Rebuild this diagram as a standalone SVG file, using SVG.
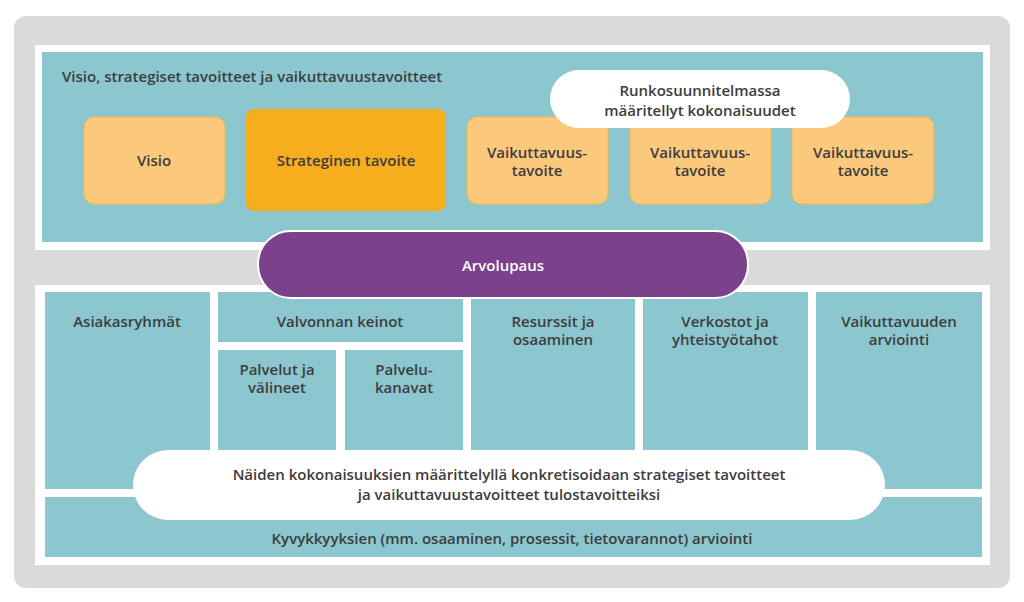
<svg xmlns="http://www.w3.org/2000/svg" width="1024" height="602" viewBox="0 0 1024 602">
<style>
text{font-family:"Open Sans","Liberation Sans",sans-serif;font-size:15px;fill:#3c3c3c;font-weight:600}
.c{text-anchor:middle}
.t{fill:#8cc7cf}
.lo{fill:#fbc97c;stroke:#f6b84a;stroke-width:1}
.pill{fill:#fff}
</style>
<rect x="14" y="16" width="996" height="572" rx="12" fill="#dadada"/>
<rect x="35" y="45" width="955" height="205" fill="#fff"/>
<rect x="42" y="52" width="941" height="190" class="t"/>
<text x="62" y="82">Visio, strategiset tavoitteet ja vaikuttavuustavoitteet</text>
<g id="visio"><rect x="84" y="117" width="141" height="87" rx="10" class="lo"/><text x="154" y="166" class="c">Visio</text></g>
<g id="strateginen"><rect x="246" y="109" width="200" height="102" rx="8" fill="#f6ae1e"/><text x="346" y="166" class="c">Strateginen tavoite</text></g>
<g id="vt1"><rect x="467" y="117" width="141" height="87" rx="10" class="lo"/><text x="537" y="158" class="c">Vaikuttavuus-</text><text x="537" y="176" class="c">tavoite</text></g>
<g id="vt2"><rect x="630" y="117" width="141" height="87" rx="10" class="lo"/><text x="700" y="158" class="c">Vaikuttavuus-</text><text x="700" y="176" class="c">tavoite</text></g>
<g id="vt3"><rect x="792" y="117" width="142" height="87" rx="10" class="lo"/><text x="863" y="158" class="c">Vaikuttavuus-</text><text x="863" y="176" class="c">tavoite</text></g>
<g id="runko"><rect x="550" y="70" width="300" height="58" rx="29" class="pill"/><text x="700" y="96" class="c">Runkosuunnitelmassa</text><text x="700" y="116" class="c">määritellyt kokonaisuudet</text></g>
<rect x="35" y="285" width="955" height="280" fill="#fff"/>
<g id="asiakas"><rect x="45" y="292" width="165" height="197" class="t"/><text x="127" y="327" class="c">Asiakasryhmät</text></g>
<g id="valvonta"><rect x="218" y="292" width="245" height="50" class="t"/><text x="340" y="327" class="c">Valvonnan keinot</text></g>
<g id="palvelut"><rect x="218" y="350" width="118" height="140" class="t"/><text x="277" y="375" class="c">Palvelut ja</text><text x="277" y="393" class="c">välineet</text></g>
<g id="kanavat"><rect x="345" y="350" width="118" height="140" class="t"/><text x="404" y="375" class="c">Palvelu-</text><text x="404" y="393" class="c">kanavat</text></g>
<g id="resurssit"><rect x="471" y="292" width="164" height="197" class="t"/><text x="553" y="327" class="c">Resurssit ja</text><text x="553" y="345" class="c">osaaminen</text></g>
<g id="verkostot"><rect x="643" y="292" width="165" height="197" class="t"/><text x="725" y="327" class="c">Verkostot ja</text><text x="725" y="345" class="c">yhteistyötahot</text></g>
<g id="arviointi"><rect x="816" y="292" width="166" height="197" class="t"/><text x="899" y="327" class="c">Vaikuttavuuden</text><text x="899" y="345" class="c">arviointi</text></g>
<g id="kyvyt"><rect x="45" y="497" width="937" height="60" class="t"/><text x="512" y="544" class="c">Kyvykkyyksien (mm. osaaminen, prosessit, tietovarannot) arviointi</text></g>
<g id="naiden"><rect x="133" y="450" width="752" height="70" rx="35" class="pill"/><text x="509" y="480" class="c">Näiden kokonaisuuksien määrittelyllä konkretisoidaan strategiset tavoitteet</text><text x="509" y="500" class="c">ja vaikuttavuustavoitteet tulostavoitteiksi</text></g>
<g id="arvolupaus"><rect x="258" y="231" width="490" height="67" rx="33" fill="#7b418b" stroke="#fff" stroke-width="2"/><text x="503" y="271" class="c" style="fill:#fff">Arvolupaus</text></g>
<g id="connectors"/>
</svg>
